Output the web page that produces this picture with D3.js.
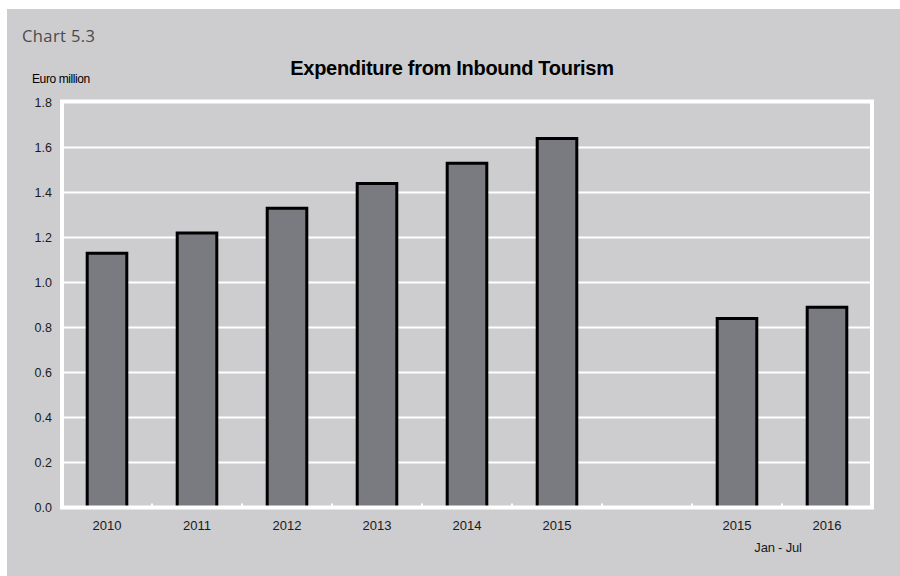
<!DOCTYPE html>
<html>
<head>
<meta charset="utf-8">
<script src="https://cdn.jsdelivr.net/npm/d3@7"></script>
<style>
  html, body { margin: 0; padding: 0; background: #ffffff; }
  svg { display: block; }
</style>
</head>
<body>
<svg id="chart" width="900" height="576"></svg>
<script>
// Annual totals 2010-2015, an empty gap slot, then Jan-Jul 2015 vs 2016
const categories = ["2010", "2011", "2012", "2013", "2014", "2015", "", "2015", "2016"];
const values = [1.13, 1.22, 1.33, 1.44, 1.53, 1.64, null, 0.84, 0.89];
const yTicks = [0, 0.2, 0.4, 0.6, 0.8, 1.0, 1.2, 1.4, 1.6, 1.8];
const periodNote = "Jan - Jul";

const svg = d3.select("#chart");
const W = 900, H = 576;
const FONT = "Liberation Sans, Arial, sans-serif";

// panel background
svg.append("rect").attr("x", 7).attr("y", 9).attr("width", W - 7).attr("height", H - 9)
  .attr("fill", "#cdcdcf");

const plot = { left: 62, right: 872, top: 102.5, bottom: 507.5 };

const x = d3.scaleBand()
  .domain(d3.range(categories.length))
  .range([plot.left, plot.right])
  .paddingInner(0.56)
  .paddingOuter(0.28);

const y = d3.scaleLinear().domain([0, 1.8]).range([plot.bottom, plot.top]);

// gridlines
svg.append("g")
  .selectAll("line")
  .data(yTicks.filter(d => d > 0 && d < 1.8))
  .join("line")
  .attr("x1", plot.left).attr("x2", plot.right)
  .attr("y1", d => y(d)).attr("y2", d => y(d))
  .attr("stroke", "#ffffff").attr("stroke-width", 2);

// bars
const barData = values.map((v, i) => ({ i, v })).filter(d => d.v !== null);
svg.append("g")
  .selectAll("rect")
  .data(barData)
  .join("rect")
  .attr("x", d => x(d.i))
  .attr("width", x.bandwidth())
  .attr("y", d => y(d.v))
  .attr("height", d => y(0) - y(d.v))
  .attr("fill", "#7a7b80")
  .attr("stroke", "#000000")
  .attr("stroke-width", 3);

// plot frame
svg.append("rect")
  .attr("x", plot.left).attr("y", plot.top - 1)
  .attr("width", plot.right - plot.left).attr("height", plot.bottom - plot.top + 1)
  .attr("fill", "none").attr("stroke", "#ffffff").attr("stroke-width", 4);

// x-axis slot separators (small inward ticks)
const slotW = (plot.right - plot.left) / categories.length;
svg.append("g")
  .selectAll("line")
  .data(d3.range(1, categories.length))
  .join("line")
  .attr("x1", i => plot.left + i * slotW)
  .attr("x2", i => plot.left + i * slotW)
  .attr("y1", plot.bottom).attr("y2", plot.bottom - 4)
  .attr("stroke", "#ffffff").attr("stroke-width", 2);

// y-axis labels
const yAxis = d3.axisLeft(y).tickValues(yTicks).tickFormat(d3.format(".1f")).tickSize(0).tickPadding(10);
const gy = svg.append("g").attr("transform", `translate(${plot.left},0)`).call(yAxis);
gy.select(".domain").remove();
gy.selectAll("text")
  .attr("font-family", FONT)
  .attr("font-size", 12.5).attr("fill", "#1a1a1a");

// x-axis labels
const xAxis = d3.axisBottom(x).tickFormat(i => categories[i]).tickSize(0).tickPadding(13);
const gx = svg.append("g").attr("transform", `translate(0,${plot.bottom})`).call(xAxis);
gx.select(".domain").remove();
gx.selectAll("text")
  .attr("font-family", FONT)
  .attr("font-size", 13).attr("fill", "#1a1a1a");

// period note under the last two bars
svg.append("text")
  .attr("x", (x(7) + x(8) + x.bandwidth()) / 2 - 4)
  .attr("y", 552)
  .attr("text-anchor", "middle")
  .attr("font-family", FONT)
  .attr("font-size", 13).attr("letter-spacing", -0.2).attr("fill", "#1a1a1a")
  .text(periodNote);

// titles
svg.append("text")
  .attr("x", 22).attr("y", 42)
  .attr("font-family", "Open Sans, sans-serif")
  .attr("font-size", 16.5).attr("letter-spacing", 0.4).attr("fill", "#4a4a4a")
  .text("Chart 5.3");

svg.append("text")
  .attr("x", 452).attr("y", 75)
  .attr("text-anchor", "middle")
  .attr("font-family", FONT)
  .attr("font-weight", "bold")
  .attr("font-size", 20).attr("letter-spacing", -0.3).attr("fill", "#000000")
  .text("Expenditure from Inbound Tourism");

svg.append("text")
  .attr("x", 32).attr("y", 83)
  .attr("font-family", FONT)
  .attr("font-size", 12).attr("letter-spacing", -0.4).attr("fill", "#000000")
  .text("Euro million");
</script>
</body>
</html>
